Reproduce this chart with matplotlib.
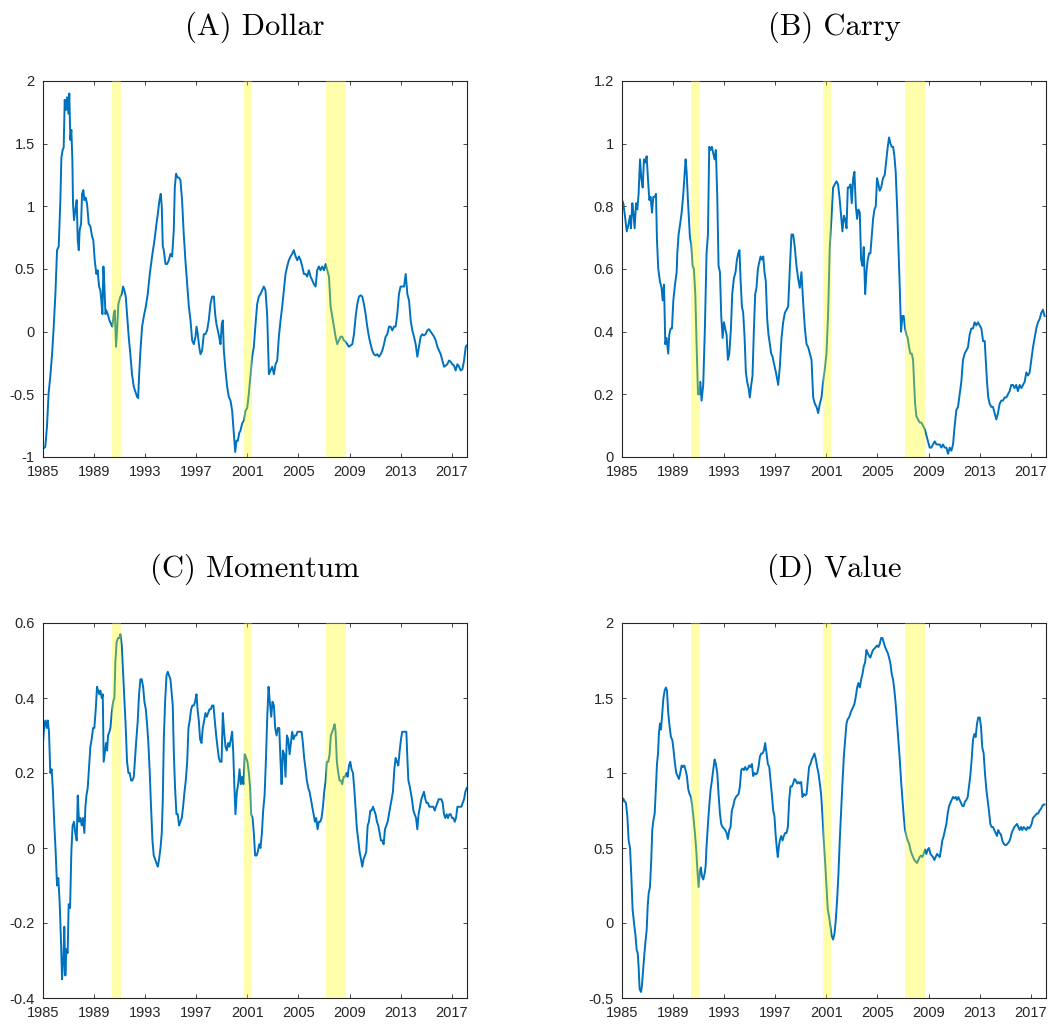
import numpy as np
import matplotlib
matplotlib.use("Agg")
import matplotlib.pyplot as plt

# time stamps are years since Jan 1985
dollar_t = [0.05, 0.18, 0.31, 0.44, 0.57, 0.71, 0.84, 0.97, 1.10, 1.23, 1.36, 1.44, 1.54, 1.62, 1.70, 1.80,
            1.88, 1.99, 2.06, 2.14, 2.22, 2.30, 2.35, 2.43, 2.53, 2.64, 2.72, 2.80, 2.87, 2.98, 3.06, 3.16,
            3.24, 3.34, 3.45, 3.58, 3.71, 3.84, 3.94, 4.05, 4.18, 4.28, 4.39, 4.49, 4.57, 4.65, 4.73, 4.81,
            4.89, 4.96, 5.07, 5.20, 5.33, 5.43, 5.54, 5.62, 5.72, 5.80, 5.90, 6.06, 6.17, 6.27, 6.37, 6.48,
            6.58, 6.71, 6.84, 6.97, 7.11, 7.24, 7.37, 7.45, 7.52, 7.63, 7.76, 7.89, 8.05, 8.20, 8.36, 8.54,
            8.73, 8.86, 8.99, 9.12, 9.22, 9.30, 9.38, 9.46, 9.59, 9.72, 9.85, 9.98, 10.11, 10.24, 10.32, 10.42,
            10.53, 10.63, 10.76, 10.89, 11.02, 11.15, 11.29, 11.42, 11.55, 11.68, 11.81, 11.94, 12.02, 12.12,
            12.23, 12.33, 12.46, 12.59, 12.72, 12.85, 12.98, 13.11, 13.24, 13.38, 13.48, 13.58, 13.69, 13.79,
            13.90, 14.00, 14.08, 14.16, 14.29, 14.42, 14.55, 14.68, 14.81, 14.94, 15.05, 15.15, 15.26, 15.36,
            15.46, 15.60, 15.73, 15.86, 15.99, 16.12, 16.25, 16.38, 16.51, 16.64, 16.77, 16.90, 17.03, 17.16,
            17.29, 17.42, 17.55, 17.69, 17.82, 17.95, 18.08, 18.21, 18.34, 18.47, 18.60, 18.73, 18.86, 18.99,
            19.12, 19.25, 19.38, 19.51, 19.64, 19.78, 19.91, 20.04, 20.17, 20.30, 20.43, 20.56, 20.69, 20.82,
            20.95, 21.08, 21.21, 21.34, 21.47, 21.60, 21.73, 21.86, 22.00, 22.13, 22.26, 22.39, 22.52, 22.65,
            22.78, 22.91, 23.04, 23.17, 23.30, 23.43, 23.56, 23.69, 23.82, 23.95, 24.09, 24.22, 24.35, 24.48,
            24.61, 24.74, 24.87, 25.00, 25.13, 25.26, 25.39, 25.52, 25.65, 25.78, 25.91, 26.04, 26.18, 26.31,
            26.44, 26.57, 26.70, 26.83, 26.96, 27.09, 27.22, 27.35, 27.48, 27.61, 27.74, 27.87, 28.00, 28.13,
            28.27, 28.40, 28.53, 28.66, 28.79, 28.92, 29.05, 29.18, 29.31, 29.44, 29.57, 29.70, 29.83, 29.96,
            30.09, 30.22, 30.36, 30.49, 30.62, 30.75, 30.88, 31.01, 31.14, 31.27, 31.40, 31.53, 31.66, 31.79,
            31.92, 32.05, 32.18, 32.31, 32.45, 32.58, 32.71, 32.84, 32.97, 33.10, 33.18]
dollar = [-0.93, -0.92, -0.76, -0.49, -0.36, -0.18, 0.04, 0.30, 0.65, 0.68, 1.05, 1.39, 1.45, 1.47, 1.85, 1.77,
          1.87, 1.74, 1.90, 1.53, 1.61, 1.37, 1.02, 0.89, 0.97, 1.05, 0.73, 0.65, 0.81, 0.86, 1.10, 1.13,
          1.05, 1.07, 1.02, 0.86, 0.84, 0.76, 0.73, 0.57, 0.46, 0.49, 0.36, 0.33, 0.25, 0.14, 0.52, 0.36,
          0.14, 0.17, 0.14, 0.09, 0.06, 0.04, 0.14, 0.17, -0.12, 0.01, 0.22, 0.28, 0.30, 0.36, 0.33, 0.28,
          0.14, -0.04, -0.18, -0.34, -0.44, -0.48, -0.52, -0.53, -0.36, -0.15, 0.04, 0.12, 0.20, 0.30, 0.46, 0.60,
          0.73, 0.84, 0.94, 1.05, 1.10, 1.00, 0.68, 0.65, 0.54, 0.54, 0.57, 0.62, 0.60, 0.81, 1.15, 1.26,
          1.23, 1.23, 1.21, 1.05, 0.78, 0.57, 0.38, 0.20, 0.09, -0.07, -0.10, -0.04, 0.04, -0.02,
          -0.12, -0.18, -0.15, -0.02, -0.02, 0.01, 0.09, 0.22, 0.28, 0.28, 0.14, 0.06, 0.01, -0.04,
          -0.10, 0.06, 0.09, -0.15, -0.31, -0.44, -0.52, -0.55, -0.63, -0.81, -0.96, -0.87, -0.87, -0.81,
          -0.79, -0.73, -0.71, -0.63, -0.61, -0.49, -0.34, -0.20, -0.12, 0.06, 0.22, 0.28, 0.30, 0.33,
          0.36, 0.33, 0.14, -0.34, -0.31, -0.28, -0.34, -0.26, -0.23, -0.04, 0.09, 0.20, 0.33, 0.46,
          0.52, 0.57, 0.60, 0.62, 0.65, 0.60, 0.57, 0.60, 0.57, 0.52, 0.46, 0.46, 0.44, 0.49,
          0.44, 0.41, 0.38, 0.36, 0.49, 0.52, 0.49, 0.52, 0.49, 0.54, 0.49, 0.44, 0.20, 0.12,
          0.04, -0.04, -0.10, -0.07, -0.04, -0.04, -0.07, -0.08, -0.10, -0.12, -0.11, -0.10, -0.02, 0.12,
          0.22, 0.28, 0.29, 0.28, 0.22, 0.14, 0.04, -0.04, -0.10, -0.15, -0.18, -0.19, -0.18, -0.20,
          -0.18, -0.15, -0.10, -0.04, -0.02, 0.04, 0.04, 0.01, 0.04, 0.04, 0.14, 0.30, 0.36, 0.36,
          0.36, 0.46, 0.30, 0.25, 0.09, 0.01, -0.04, -0.10, -0.20, -0.12, -0.04, -0.02, -0.03, -0.02,
          0.01, 0.02, 0.00, -0.02, -0.04, -0.07, -0.12, -0.15, -0.18, -0.23, -0.28, -0.27, -0.26, -0.23,
          -0.24, -0.26, -0.27, -0.31, -0.26, -0.28, -0.31, -0.30, -0.23, -0.12, -0.11]

carry_t = [0.00, 0.10, 0.23, 0.37, 0.50, 0.63, 0.70, 0.81, 0.89, 0.99, 1.10, 1.20, 1.30, 1.41, 1.51, 1.62,
           1.72, 1.83, 1.93, 2.03, 2.14, 2.24, 2.35, 2.45, 2.56, 2.66, 2.74, 2.84, 2.97, 3.10, 3.18, 3.29,
           3.39, 3.49, 3.62, 3.70, 3.81, 3.91, 4.02, 4.15, 4.28, 4.33, 4.43, 4.54, 4.67, 4.80, 4.90, 4.98,
           5.06, 5.16, 5.32, 5.42, 5.53, 5.63, 5.74, 5.84, 5.95, 6.05, 6.13, 6.23, 6.36, 6.49, 6.62, 6.73,
           6.83, 6.94, 7.04, 7.14, 7.25, 7.35, 7.46, 7.56, 7.67, 7.77, 7.88, 7.98, 8.08, 8.19, 8.29, 8.40,
           8.53, 8.63, 8.76, 8.89, 9.00, 9.10, 9.20, 9.28, 9.39, 9.49, 9.60, 9.70, 9.80, 9.91, 10.01, 10.12,
           10.22, 10.33, 10.43, 10.53, 10.64, 10.74, 10.85, 10.95, 11.06, 11.16, 11.26, 11.37, 11.47, 11.58,
           11.68, 11.79, 11.89, 12.00, 12.10, 12.23, 12.36, 12.49, 12.62, 12.75, 12.88, 13.01, 13.14, 13.27,
           13.40, 13.53, 13.66, 13.79, 13.92, 14.05, 14.19, 14.32, 14.45, 14.58, 14.71, 14.84, 14.97, 15.10,
           15.23, 15.36, 15.49, 15.62, 15.75, 15.88, 16.01, 16.14, 16.27, 16.40, 16.53, 16.66, 16.79, 16.92,
           17.05, 17.18, 17.26, 17.37, 17.47, 17.58, 17.68, 17.78, 17.89, 17.99, 18.10, 18.20, 18.31, 18.41,
           18.51, 18.62, 18.72, 18.83, 18.93, 19.04, 19.14, 19.24, 19.35, 19.45, 19.56, 19.66, 19.77, 19.87,
           19.97, 20.08, 20.18, 20.29, 20.44, 20.57, 20.70, 20.81, 20.91, 21.02, 21.12, 21.23, 21.33, 21.43,
           21.54, 21.64, 21.75, 21.85, 21.96, 22.06, 22.16, 22.27, 22.37, 22.48, 22.58, 22.69, 22.79, 22.87,
           22.95, 23.05, 23.18, 23.31, 23.44, 23.57, 23.70, 23.83, 23.96, 24.09, 24.22, 24.35, 24.49, 24.62,
           24.75, 24.88, 25.01, 25.14, 25.27, 25.40, 25.53, 25.66, 25.79, 25.92, 26.05, 26.18, 26.31, 26.44,
           26.57, 26.70, 26.83, 26.96, 27.09, 27.22, 27.35, 27.48, 27.61, 27.74, 27.87, 28.01, 28.14, 28.27,
           28.40, 28.48, 28.58, 28.68, 28.79, 28.92, 29.05, 29.18, 29.31, 29.44, 29.57, 29.70, 29.83, 29.96,
           30.09, 30.22, 30.35, 30.48, 30.61, 30.74, 30.87, 31.00, 31.14, 31.27, 31.40, 31.53, 31.66, 31.79,
           31.92, 32.05, 32.18, 32.31, 32.44, 32.57, 32.70, 32.83, 32.96, 33.09]
carry = [0.82, 0.81, 0.77, 0.72, 0.74, 0.77, 0.73, 0.81, 0.78, 0.73, 0.81, 0.79, 0.84, 0.95, 0.89, 0.86,
         0.95, 0.94, 0.96, 0.89, 0.82, 0.83, 0.78, 0.83, 0.83, 0.84, 0.69, 0.60, 0.56, 0.54, 0.50, 0.55,
         0.36, 0.38, 0.33, 0.39, 0.41, 0.41, 0.50, 0.55, 0.59, 0.65, 0.71, 0.74, 0.78, 0.84, 0.90, 0.95,
         0.91, 0.82, 0.70, 0.68, 0.61, 0.60, 0.52, 0.36, 0.20, 0.20, 0.24, 0.18, 0.23, 0.41, 0.65, 0.71,
         0.99, 0.98, 0.99, 0.97, 0.95, 0.98, 0.83, 0.61, 0.59, 0.45, 0.38, 0.43, 0.41, 0.39, 0.31, 0.33,
         0.41, 0.52, 0.57, 0.59, 0.63, 0.65, 0.66, 0.57, 0.48, 0.46, 0.38, 0.27, 0.24, 0.22, 0.19, 0.23,
         0.26, 0.41, 0.52, 0.54, 0.60, 0.62, 0.64, 0.63, 0.64, 0.59, 0.56, 0.44, 0.39, 0.36,
         0.33, 0.32, 0.30, 0.28, 0.26, 0.23, 0.29, 0.38, 0.43, 0.46, 0.47, 0.48, 0.60, 0.71,
         0.71, 0.67, 0.61, 0.57, 0.54, 0.59, 0.49, 0.41, 0.36, 0.35, 0.33, 0.31, 0.19, 0.17,
         0.16, 0.14, 0.17, 0.19, 0.24, 0.28, 0.33, 0.46, 0.67, 0.76, 0.86, 0.87, 0.88, 0.87,
         0.82, 0.76, 0.72, 0.77, 0.76, 0.73, 0.86, 0.86, 0.87, 0.81, 0.89, 0.91, 0.80, 0.76,
         0.79, 0.78, 0.63, 0.61, 0.67, 0.52, 0.59, 0.63, 0.65, 0.65, 0.71, 0.76, 0.79, 0.80,
         0.89, 0.87, 0.85, 0.86, 0.89, 0.90, 0.95, 0.99, 1.02, 1.00, 0.99, 0.99, 0.96, 0.91,
         0.80, 0.68, 0.54, 0.40, 0.45, 0.45, 0.41, 0.39, 0.38, 0.35, 0.33, 0.33, 0.31, 0.24,
         0.17, 0.13, 0.12, 0.11, 0.11, 0.10, 0.09, 0.07, 0.05, 0.03, 0.03, 0.04, 0.05, 0.04,
         0.04, 0.04, 0.03, 0.04, 0.03, 0.03, 0.01, 0.03, 0.02, 0.04, 0.10, 0.15, 0.16, 0.20,
         0.24, 0.31, 0.33, 0.34, 0.35, 0.39, 0.41, 0.41, 0.43, 0.42, 0.43, 0.42, 0.41, 0.37,
         0.37, 0.31, 0.24, 0.19, 0.17, 0.16, 0.16, 0.14, 0.12, 0.14, 0.17, 0.18, 0.18, 0.19,
         0.19, 0.20, 0.21, 0.23, 0.23, 0.22, 0.23, 0.21, 0.23, 0.22, 0.23, 0.24, 0.27, 0.26,
         0.27, 0.31, 0.35, 0.38, 0.41, 0.43, 0.44, 0.46, 0.47, 0.45]

momentum_t = [0.00, 0.08, 0.18, 0.29, 0.37, 0.47, 0.57, 0.68, 0.78, 0.89, 0.99, 1.10, 1.20, 1.31, 1.41, 1.49,
              1.59, 1.67, 1.75, 1.83, 1.93, 2.01, 2.12, 2.22, 2.32, 2.43, 2.53, 2.64, 2.72, 2.82, 2.93, 3.03,
              3.13, 3.24, 3.32, 3.40, 3.50, 3.61, 3.71, 3.81, 3.92, 4.02, 4.13, 4.23, 4.31, 4.41, 4.49, 4.60,
              4.68, 4.75, 4.86, 4.94, 5.02, 5.09, 5.20, 5.28, 5.38, 5.49, 5.59, 5.67, 5.77, 5.88, 5.98, 6.06,
              6.17, 6.27, 6.37, 6.48, 6.58, 6.69, 6.79, 6.90, 7.00, 7.11, 7.21, 7.31, 7.42, 7.52, 7.63, 7.73,
              7.84, 7.94, 8.05, 8.15, 8.25, 8.36, 8.46, 8.57, 8.67, 8.78, 8.88, 8.99, 9.09, 9.20, 9.30, 9.38,
              9.46, 9.56, 9.67, 9.77, 9.87, 9.98, 10.08, 10.16, 10.24, 10.34, 10.45, 10.55, 10.66, 10.76, 10.87,
              10.97, 11.08, 11.18, 11.29, 11.39, 11.49, 11.60, 11.70, 11.81, 11.91, 12.02, 12.10, 12.20, 12.30,
              12.41, 12.51, 12.62, 12.72, 12.83, 12.93, 13.04, 13.14, 13.24, 13.35, 13.45, 13.56, 13.66, 13.77,
              13.87, 13.98, 14.08, 14.18, 14.29, 14.39, 14.50, 14.60, 14.71, 14.81, 14.89, 14.99, 15.07, 15.18,
              15.28, 15.39, 15.49, 15.60, 15.70, 15.80, 15.91, 16.01, 16.12, 16.22, 16.30, 16.41, 16.51, 16.61,
              16.72, 16.82, 16.93, 17.03, 17.14, 17.24, 17.35, 17.45, 17.55, 17.66, 17.76, 17.87, 17.97, 18.08,
              18.18, 18.29, 18.39, 18.50, 18.60, 18.68, 18.78, 18.89, 18.99, 19.10, 19.20, 19.31, 19.41, 19.51,
              19.62, 19.72, 19.83, 19.93, 20.04, 20.14, 20.25, 20.35, 20.45, 20.56, 20.66, 20.77, 20.87, 20.98,
              21.08, 21.19, 21.29, 21.39, 21.50, 21.60, 21.71, 21.81, 21.92, 22.02, 22.13, 22.23, 22.34, 22.44,
              22.54, 22.65, 22.75, 22.83, 22.91, 23.01, 23.12, 23.22, 23.33, 23.43, 23.54, 23.64, 23.75, 23.85,
              23.96, 24.06, 24.16, 24.27, 24.37, 24.48, 24.58, 24.69, 24.79, 24.90, 25.00, 25.10, 25.21, 25.31,
              25.42, 25.52, 25.63, 25.73, 25.84, 25.94, 26.04, 26.15, 26.25, 26.36, 26.46, 26.57, 26.67, 26.78,
              26.88, 26.99, 27.09, 27.19, 27.30, 27.40, 27.51, 27.61, 27.72, 27.82, 27.93, 28.03, 28.13, 28.24,
              28.34, 28.45, 28.53, 28.61, 28.68, 28.79, 28.89, 29.00, 29.10, 29.21, 29.31, 29.41, 29.52, 29.62,
              29.73, 29.83, 29.94, 30.04, 30.15, 30.25, 30.36, 30.46, 30.56, 30.67, 30.77, 30.88, 30.98, 31.09,
              31.19, 31.30, 31.40, 31.50, 31.61, 31.71, 31.82, 31.92, 32.03, 32.13, 32.24, 32.34, 32.45, 32.55,
              32.65, 32.76, 32.86, 32.97, 33.07, 33.18]
momentum = [0.28, 0.32, 0.34, 0.32, 0.34, 0.31, 0.20, 0.21, 0.15, 0.06, -0.01, -0.10, -0.08, -0.15, -0.25, -0.35,
            -0.30, -0.21, -0.34, -0.27, -0.28, -0.15, -0.16, -0.01, 0.06, 0.07, 0.04, 0.02, 0.14, 0.07, 0.08, 0.06,
            0.08, 0.04, 0.11, 0.14, 0.16, 0.22, 0.27, 0.29, 0.32, 0.32, 0.37, 0.43, 0.42, 0.41, 0.42, 0.40,
            0.41, 0.23, 0.26, 0.28, 0.26, 0.30, 0.31, 0.32, 0.36, 0.39, 0.40, 0.50, 0.55, 0.56, 0.56, 0.57,
            0.54, 0.47, 0.40, 0.32, 0.23, 0.20, 0.20, 0.18, 0.18, 0.19, 0.24, 0.29, 0.34, 0.41, 0.45, 0.45,
            0.43, 0.39, 0.37, 0.33, 0.28, 0.20, 0.11, 0.02, -0.02, -0.03, -0.04, -0.05, -0.03, 0.00, 0.04, 0.13,
            0.29, 0.39, 0.46, 0.47, 0.46, 0.45, 0.41, 0.38, 0.26, 0.16, 0.09, 0.09, 0.06, 0.07, 0.08,
            0.11, 0.15, 0.18, 0.23, 0.32, 0.34, 0.37, 0.38, 0.38, 0.39, 0.41, 0.37, 0.34, 0.29,
            0.28, 0.32, 0.34, 0.36, 0.35, 0.36, 0.37, 0.37, 0.38, 0.38, 0.34, 0.30, 0.27, 0.24,
            0.23, 0.23, 0.36, 0.31, 0.27, 0.26, 0.28, 0.27, 0.29, 0.31, 0.26, 0.16, 0.09, 0.15,
            0.17, 0.21, 0.17, 0.19, 0.17, 0.25, 0.24, 0.23, 0.20, 0.16, 0.09, 0.08, 0.04, -0.02,
            -0.02, -0.01, 0.01, 0.00, 0.04, 0.10, 0.14, 0.23, 0.34, 0.43, 0.39, 0.35, 0.39, 0.38,
            0.32, 0.30, 0.32, 0.32, 0.23, 0.17, 0.26, 0.25, 0.19, 0.30, 0.29, 0.25, 0.28, 0.31,
            0.29, 0.30, 0.30, 0.31, 0.31, 0.31, 0.31, 0.28, 0.24, 0.21, 0.18, 0.16, 0.15, 0.13,
            0.11, 0.09, 0.07, 0.08, 0.05, 0.07, 0.07, 0.08, 0.11, 0.15, 0.18, 0.23, 0.23, 0.25,
            0.30, 0.31, 0.32, 0.33, 0.31, 0.23, 0.20, 0.18, 0.18, 0.17, 0.19, 0.19, 0.20, 0.19,
            0.22, 0.23, 0.21, 0.20, 0.16, 0.10, 0.05, 0.02, -0.01, -0.03, -0.05, -0.03, -0.02, -0.01,
            0.06, 0.07, 0.10, 0.10, 0.11, 0.10, 0.09, 0.07, 0.06, 0.04, 0.02, 0.02, 0.01, 0.05,
            0.06, 0.07, 0.09, 0.11, 0.13, 0.15, 0.21, 0.24, 0.23, 0.22, 0.26, 0.29, 0.31, 0.31,
            0.31, 0.31, 0.24, 0.18, 0.17, 0.15, 0.13, 0.10, 0.09, 0.08, 0.05, 0.09, 0.11, 0.13,
            0.14, 0.15, 0.13, 0.12, 0.12, 0.11, 0.11, 0.11, 0.11, 0.10, 0.11, 0.12, 0.13, 0.13,
            0.13, 0.12, 0.09, 0.08, 0.09, 0.08, 0.09, 0.09, 0.08, 0.08, 0.07, 0.08, 0.11, 0.11,
            0.11, 0.11, 0.12, 0.13, 0.15, 0.16]

value_t = [0.00, 0.10, 0.21, 0.31, 0.42, 0.52, 0.63, 0.73, 0.83, 0.94, 1.04, 1.15, 1.23, 1.30, 1.38, 1.49,
           1.56, 1.64, 1.72, 1.83, 1.93, 2.01, 2.09, 2.19, 2.29, 2.37, 2.45, 2.56, 2.66, 2.74, 2.82, 2.89,
           2.97, 3.05, 3.13, 3.23, 3.34, 3.44, 3.52, 3.62, 3.73, 3.83, 3.94, 4.04, 4.15, 4.25, 4.35, 4.46,
           4.56, 4.67, 4.77, 4.88, 4.98, 5.08, 5.19, 5.29, 5.40, 5.50, 5.61, 5.71, 5.81, 5.92, 6.00, 6.10,
           6.18, 6.26, 6.36, 6.47, 6.55, 6.62, 6.73, 6.83, 6.94, 7.04, 7.14, 7.25, 7.35, 7.46, 7.56, 7.67,
           7.77, 7.87, 7.98, 8.08, 8.19, 8.29, 8.40, 8.50, 8.60, 8.71, 8.81, 8.92, 9.02, 9.13, 9.23, 9.34,
           9.44, 9.54, 9.65, 9.75, 9.86, 9.96, 10.07, 10.17, 10.27, 10.38, 10.48, 10.59, 10.69, 10.80, 10.90,
           11.00, 11.11, 11.21, 11.32, 11.42, 11.53, 11.63, 11.73, 11.84, 11.94, 12.02, 12.13, 12.20, 12.28,
           12.36, 12.46, 12.57, 12.67, 12.78, 12.88, 12.99, 13.09, 13.19, 13.30, 13.40, 13.51, 13.61, 13.72,
           13.82, 13.92, 14.03, 14.13, 14.24, 14.34, 14.45, 14.55, 14.65, 14.76, 14.86, 14.97, 15.07, 15.18,
           15.28, 15.38, 15.49, 15.59, 15.70, 15.80, 15.91, 16.01, 16.11, 16.22, 16.32, 16.43, 16.53, 16.64,
           16.74, 16.84, 16.95, 17.05, 17.16, 17.26, 17.37, 17.47, 17.58, 17.68, 17.78, 17.89, 17.99, 18.10,
           18.20, 18.31, 18.41, 18.51, 18.62, 18.72, 18.83, 18.93, 19.04, 19.14, 19.24, 19.35, 19.45, 19.56,
           19.66, 19.77, 19.87, 19.97, 20.08, 20.18, 20.29, 20.39, 20.50, 20.60, 20.70, 20.81, 20.91, 21.02,
           21.12, 21.23, 21.33, 21.43, 21.54, 21.64, 21.75, 21.85, 21.96, 22.06, 22.16, 22.27, 22.37, 22.48,
           22.58, 22.69, 22.79, 22.89, 23.00, 23.10, 23.21, 23.31, 23.42, 23.52, 23.62, 23.73, 23.83, 23.94,
           24.04, 24.15, 24.25, 24.35, 24.46, 24.56, 24.67, 24.77, 24.88, 24.98, 25.08, 25.19, 25.29, 25.40,
           25.50, 25.61, 25.71, 25.81, 25.92, 26.02, 26.13, 26.23, 26.34, 26.44, 26.55, 26.65, 26.75, 26.86,
           26.96, 27.07, 27.17, 27.27, 27.38, 27.48, 27.59, 27.69, 27.80, 27.90, 28.01, 28.11, 28.21, 28.32,
           28.42, 28.53, 28.63, 28.73, 28.84, 28.94, 29.05, 29.15, 29.26, 29.36, 29.46, 29.57, 29.67, 29.78,
           29.88, 29.99, 30.09, 30.20, 30.30, 30.40, 30.51, 30.61, 30.72, 30.82, 30.93, 31.03, 31.13, 31.24,
           31.34, 31.45, 31.55, 31.66, 31.76, 31.87, 31.97, 32.07, 32.18, 32.28, 32.39, 32.49, 32.59, 32.70,
           32.80, 32.91, 33.01, 33.09]
value = [0.80, 0.83, 0.81, 0.80, 0.71, 0.55, 0.50, 0.31, 0.09, 0.00, -0.07, -0.18, -0.20, -0.29, -0.44, -0.46,
         -0.42, -0.33, -0.24, -0.13, -0.05, 0.11, 0.20, 0.24, 0.42, 0.62, 0.68, 0.73, 0.91, 1.06, 1.13, 1.26,
         1.33, 1.29, 1.37, 1.49, 1.55, 1.57, 1.55, 1.40, 1.31, 1.24, 1.22, 1.15, 1.06, 1.00, 0.98, 0.96,
         1.00, 1.05, 1.04, 1.05, 1.02, 0.98, 0.89, 0.86, 0.84, 0.78, 0.69, 0.60, 0.49, 0.33, 0.24, 0.35,
         0.37, 0.31, 0.29, 0.33, 0.38, 0.51, 0.66, 0.78, 0.89, 0.95, 1.02, 1.09, 1.06, 1.00, 0.86, 0.73,
         0.66, 0.64, 0.63, 0.62, 0.60, 0.56, 0.62, 0.64, 0.75, 0.78, 0.82, 0.84, 0.85, 0.86, 0.91, 1.02,
         1.03, 1.02, 1.04, 1.02, 1.03, 1.05, 1.04, 1.06, 0.98, 1.00, 0.99, 1.00, 1.04, 1.11, 1.13,
         1.13, 1.15, 1.20, 1.13, 1.06, 1.04, 0.95, 0.86, 0.75, 0.71, 0.60, 0.49, 0.44, 0.51,
         0.55, 0.58, 0.55, 0.58, 0.60, 0.60, 0.64, 0.82, 0.91, 0.91, 0.93, 0.96, 0.95, 0.93,
         0.94, 0.93, 0.94, 0.84, 0.86, 0.85, 0.86, 0.95, 1.04, 1.06, 1.09, 1.11, 1.13, 1.09,
         1.04, 1.00, 0.93, 0.86, 0.71, 0.55, 0.40, 0.24, 0.09, 0.04, -0.02, -0.09, -0.11, -0.07,
         0.02, 0.15, 0.33, 0.55, 0.75, 0.93, 1.11, 1.22, 1.33, 1.36, 1.37, 1.40, 1.42, 1.44,
         1.46, 1.51, 1.57, 1.60, 1.57, 1.62, 1.66, 1.71, 1.74, 1.82, 1.80, 1.78, 1.77, 1.80,
         1.82, 1.83, 1.84, 1.85, 1.84, 1.86, 1.90, 1.90, 1.87, 1.84, 1.82, 1.80, 1.77, 1.73,
         1.66, 1.62, 1.55, 1.46, 1.33, 1.22, 1.09, 0.95, 0.82, 0.71, 0.62, 0.58, 0.55, 0.53,
         0.49, 0.46, 0.44, 0.42, 0.41, 0.40, 0.42, 0.44, 0.45, 0.44, 0.46, 0.49, 0.46, 0.49,
         0.50, 0.46, 0.45, 0.44, 0.42, 0.44, 0.46, 0.45, 0.44, 0.49, 0.55, 0.58, 0.62, 0.66,
         0.73, 0.78, 0.80, 0.82, 0.84, 0.83, 0.84, 0.82, 0.84, 0.82, 0.80, 0.78, 0.78, 0.81,
         0.82, 0.84, 0.91, 0.98, 1.09, 1.22, 1.26, 1.24, 1.33, 1.37, 1.37, 1.31, 1.17, 1.13,
         1.00, 0.89, 0.82, 0.75, 0.66, 0.64, 0.64, 0.62, 0.60, 0.58, 0.62, 0.60, 0.59, 0.55,
         0.53, 0.52, 0.52, 0.53, 0.54, 0.56, 0.60, 0.62, 0.64, 0.65, 0.66, 0.64, 0.62, 0.64,
         0.62, 0.64, 0.63, 0.62, 0.64, 0.63, 0.64, 0.66, 0.70, 0.71, 0.72, 0.73, 0.73, 0.75,
         0.76, 0.78, 0.79, 0.79]

# shaded recession windows (start, end)
recessions = [(1990.42, 1991.13), (2000.71, 2001.38), (2007.18, 2008.69)]

titles = ["(A) Dollar", "(B) Carry", "(C) Momentum", "(D) Value"]
yticks = [[-1, -0.5, 0, 0.5, 1, 1.5, 2],
          [0, 0.2, 0.4, 0.6, 0.8, 1, 1.2],
          [-0.4, -0.2, 0, 0.2, 0.4, 0.6],
          [-0.5, 0, 0.5, 1, 1.5, 2]]
ylabels = [["-1", "-0.5", "0", "0.5", "1", "1.5", "2"],
           ["0", "0.2", "0.4", "0.6", "0.8", "1", "1.2"],
           ["-0.4", "-0.2", "0", "0.2", "0.4", "0.6"],
           ["-0.5", "0", "0.5", "1", "1.5", "2"]]
xticks = list(range(1985, 2018, 4))

series = [(dollar_t, dollar), (carry_t, carry), (momentum_t, momentum), (value_t, value)]

W, H = 1049, 1028
fig = plt.figure(figsize=(W / 100, H / 100), dpi=100)
boxes = [(43, 81, 467, 457), (622, 81, 1046, 457),
         (43, 623, 467, 998), (622, 623, 1046, 998)]
grey = "#262626"

for i, (t, y) in enumerate(series):
    x0, y0, x1, y1 = boxes[i]
    ax = fig.add_axes([x0 / W, 1 - y1 / H, (x1 - x0) / W, (y1 - y0) / H])
    ax.plot(1985 + np.array(t), y, color="#0072BD", lw=1.4, zorder=2)
    for a, b in recessions:
        ax.axvspan(a, b, color=(1, 1, 0), alpha=0.33, lw=0, zorder=3)
    ax.set_xlim(1985, 2018.2)
    ax.set_ylim(yticks[i][0], yticks[i][-1])
    ax.set_xticks(xticks)
    ax.set_xticklabels([str(v) for v in xticks], fontfamily="Liberation Sans", fontsize=10.5, color=grey)
    ax.set_yticks(yticks[i])
    ax.set_yticklabels(ylabels[i], fontfamily="Liberation Sans", fontsize=10.5, color=grey)
    ax.tick_params(direction="in", top=True, right=True, length=3, width=0.6, color=grey)
    ax.tick_params(axis="x", pad=5.5)
    ax.tick_params(axis="y", pad=6)
    for s in ax.spines.values():
        s.set_color(grey)
        s.set_linewidth(0.8)
    ax.set_title(titles[i], fontfamily="cmr10", fontsize=22, pad=33)

fig.savefig("out.png", dpi=100)
